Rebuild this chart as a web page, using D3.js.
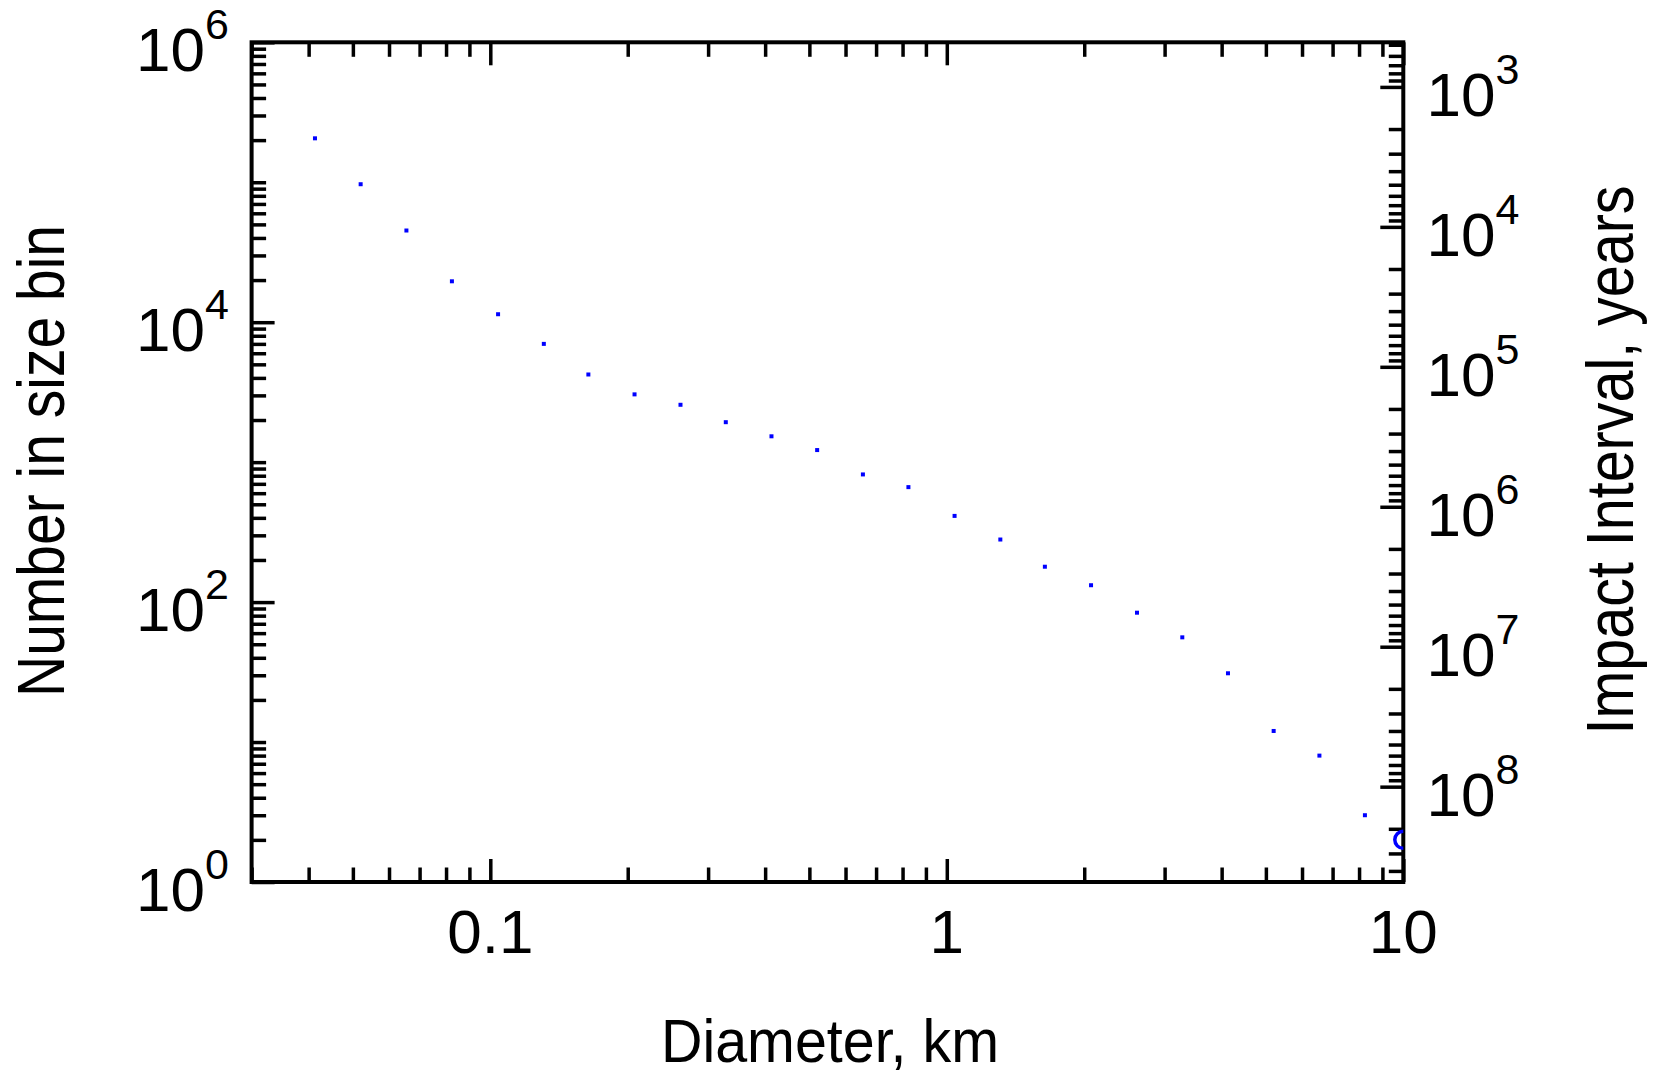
<!DOCTYPE html>
<html>
<head>
<meta charset="utf-8">
<script src="https://cdn.jsdelivr.net/npm/d3@7"></script>
<style>
  body { margin: 0; background: #fff; }
  text { font-family: "Liberation Sans", Arial, sans-serif; fill: #000; }
</style>
</head>
<body>
<svg class="chart"></svg>
<script>
// size bins (km) and number of objects per bin
var diameters = [0.0413, 0.0520, 0.0655, 0.0824, 0.104, 0.131, 0.164, 0.207, 0.261, 0.328, 0.413, 0.520,
                 0.655, 0.824, 1.04, 1.31, 1.64, 2.07, 2.61, 3.28, 4.13, 5.20, 6.55, 8.24];
var counts = [206000, 96800, 45200, 19600, 11400, 7000, 4230, 3050, 2570, 1930, 1530, 1220,
              817, 663, 413, 280, 179, 132, 84, 56, 31, 12, 8, 3];

// the last bin is drawn as an open circle
var openDiameters = [10];
var openCounts = [2];

// labelled ticks
var xMajor = [0.1, 1, 10];
var xTickLabels = ["0.1", "1", "10"];
var yMajor = [1, 1e2, 1e4, 1e6];
var yExponents = ["0", "2", "4", "6"];
var rightMajor = [1e3, 1e4, 1e5, 1e6, 1e7, 1e8];
var rightExponents = ["3", "4", "5", "6", "7", "8"];

// impact interval (years) = intervalFactor / number in bin
var intervalFactor = 4.8e8;

(function show() {
    'use strict';

    var W = 1657, H = 1077;
    var left = 251.6, right = 1403.3, top = 42.3, bottom = 882;
    var majorLen = 23, minorLen = 14.5;

    var svg = d3.select(".chart")
        .attr("width", W)
        .attr("height", H);

    svg.append("rect").attr("width", W).attr("height", H).attr("fill", "#fff");

    var x = d3.scaleLog().domain([0.03, 10]).range([left, right]);
    var y = d3.scaleLog().domain([1, 1e6]).range([bottom, top]);
    var yRight = d3.scaleLog().domain([intervalFactor, intervalFactor / 1e6]).range([bottom, top]);

    function isMajor(list) {
        return function(d) {
            return list.some(function(m) { return Math.abs(d / m - 1) < 1e-6; });
        };
    }
    var xIsMajor = isMajor(xMajor), yIsMajor = isMajor(yMajor), rIsMajor = isMajor(rightMajor);

    // ticks, all pointing inwards
    function styleTicks(g, attr, sign, test) {
        g.select(".domain").remove();
        g.selectAll(".tick text").remove();
        g.selectAll(".tick line")
            .attr("stroke", "#000")
            .attr("stroke-width", 3.5)
            .attr(attr, function(d) { return sign * (test(d) ? majorLen : minorLen); });
    }

    svg.append("g")
        .attr("transform", "translate(0," + bottom + ")")
        .call(d3.axisBottom(x).tickValues(x.ticks()).tickSizeOuter(0))
        .call(styleTicks, "y2", -1, xIsMajor);

    svg.append("g")
        .attr("transform", "translate(0," + top + ")")
        .call(d3.axisTop(x).tickValues(x.ticks()).tickSizeOuter(0))
        .call(styleTicks, "y2", 1, xIsMajor);

    svg.append("g")
        .attr("transform", "translate(" + left + ",0)")
        .call(d3.axisLeft(y).tickValues(y.ticks()).tickSizeOuter(0))
        .call(styleTicks, "x2", 1, yIsMajor);

    svg.append("g")
        .attr("transform", "translate(" + right + ",0)")
        .call(d3.axisRight(yRight).tickValues(yRight.ticks()).tickSizeOuter(0))
        .call(styleTicks, "x2", -1, rIsMajor);

    // frame
    svg.append("rect")
        .attr("x", left).attr("y", top)
        .attr("width", right - left).attr("height", bottom - top)
        .attr("fill", "none")
        .attr("stroke", "#000")
        .attr("stroke-width", 4);

    // tick labels
    svg.append("g").selectAll("text")
        .data(xMajor)
        .enter().append("text")
        .attr("x", function(d) { return x(d); })
        .attr("y", 953)
        .attr("text-anchor", "middle")
        .attr("font-size", 62)
        .text(function(d, i) { return xTickLabels[i]; });

    function powerLabel(sel, exps) {
        sel.append("tspan").text("10");
        sel.append("tspan")
            .attr("dy", -32)
            .attr("font-size", 43)
            .text(function(d, i) { return exps[i]; });
    }

    svg.append("g").selectAll("text")
        .data(yMajor)
        .enter().append("text")
        .attr("x", 229)
        .attr("y", function(d) { return y(d) + 28.5; })
        .attr("text-anchor", "end")
        .attr("font-size", 62)
        .call(powerLabel, yExponents);

    svg.append("g").selectAll("text")
        .data(rightMajor)
        .enter().append("text")
        .attr("x", 1426.5)
        .attr("y", function(d) { return yRight(d) + 29; })
        .attr("text-anchor", "start")
        .attr("font-size", 62)
        .call(powerLabel, rightExponents);

    // axis titles
    svg.append("text")
        .attr("transform", "translate(830,1062)")
        .attr("text-anchor", "middle")
        .attr("font-size", 62)
        .attr("textLength", 338)
        .attr("lengthAdjust", "spacingAndGlyphs")
        .text("Diameter, km");

    svg.append("text")
        .attr("transform", "translate(64,461) rotate(-90)")
        .attr("text-anchor", "middle")
        .attr("font-size", 66)
        .attr("textLength", 472)
        .attr("lengthAdjust", "spacingAndGlyphs")
        .text("Number in size bin");

    svg.append("text")
        .attr("transform", "translate(1633,460) rotate(-90)")
        .attr("text-anchor", "middle")
        .attr("font-size", 66)
        .attr("textLength", 549)
        .attr("lengthAdjust", "spacingAndGlyphs")
        .text("Impact Interval, years");

    // data
    svg.append("defs").append("clipPath")
        .attr("id", "plot-area")
        .append("rect")
        .attr("x", left).attr("y", top)
        .attr("width", right - left).attr("height", bottom - top);

    var plot = svg.append("g").attr("clip-path", "url(#plot-area)");

    plot.selectAll("rect.pt")
        .data(diameters)
        .enter().append("rect")
        .attr("class", "pt")
        .attr("x", function(d) { return x(d) - 2; })
        .attr("y", function(d, i) { return y(counts[i]) - 2; })
        .attr("width", 4)
        .attr("height", 4)
        .attr("fill", "#0000ff");

    plot.selectAll("circle")
        .data(openDiameters)
        .enter().append("circle")
        .attr("cx", function(d) { return x(d); })
        .attr("cy", function(d, i) { return y(openCounts[i]); })
        .attr("r", 8.5)
        .attr("fill", "none")
        .attr("stroke", "#0000ff")
        .attr("stroke-width", 3.5);
})();
</script>
</body>
</html>
